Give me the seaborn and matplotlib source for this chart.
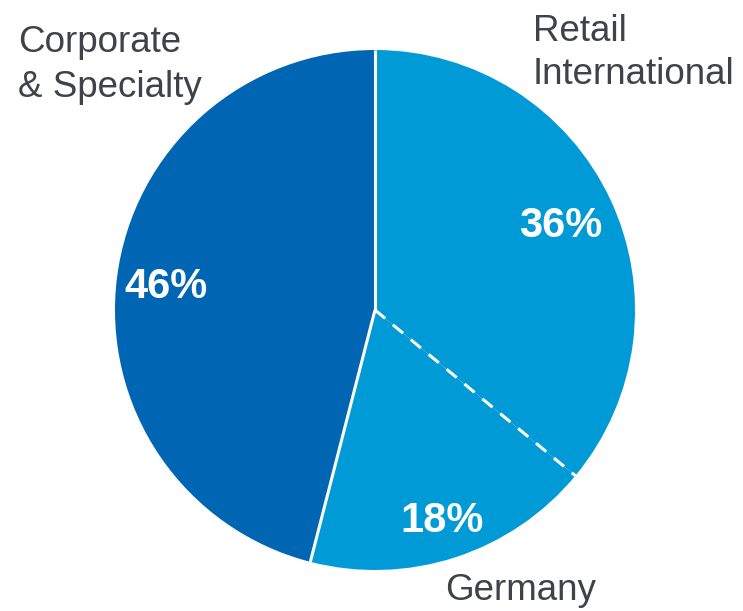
import numpy as np
import matplotlib
matplotlib.use("Agg")
import matplotlib.pyplot as plt
import seaborn as sns

# Share of business by segment (%), drawn clockwise from 12 o'clock
segments = ["Retail\nInternational", "Germany", "Corporate\n& Specialty"]
shares = [36, 18, 46]
slice_colors = ["#009bd6", "#009bd6", "#0066b3"]

sns.set_theme(style="white")
plt.rcParams["font.family"] = ["Liberation Sans", "DejaVu Sans"]

W, H = 743, 611
fig = plt.figure(figsize=(W / 100, H / 100), dpi=100)
ax = fig.add_axes([0, 0, 1, 1])

cx, cy, r = 375, 301, 260
wedges, _, autotexts = ax.pie(
    shares,
    colors=slice_colors,
    startangle=90,
    counterclock=False,
    center=(cx, cy),
    radius=r,
    autopct=lambda p: f"{p:.0f}%",
    pctdistance=0.8,
    wedgeprops=dict(linewidth=0),
    textprops=dict(color="white", fontsize=30, fontweight="bold"),
    frame=True,
)
ax.set_xlim(0, W)
ax.set_ylim(0, H)
ax.set_aspect("equal")
ax.axis("off")

# nudge label radii a little per slice
for t, w, d in zip(autotexts, wedges, [0.79, 0.84, 0.81]):
    mid = np.deg2rad((w.theta1 + w.theta2) / 2)
    t.set_position((cx + d * r * np.cos(mid), cy + d * r * np.sin(mid) - 3))

# slice boundaries: solid between colours, dashed inside the light-blue block
bounds = np.cumsum([0] + shares)[:-1]
styles = ["-", (0, (4.3, 3.3)), "-"]
for b, ls in zip(bounds, styles):
    ang = np.deg2rad(90 - 360 * b / 100)
    ax.plot([cx, cx + r * np.cos(ang)], [cy, cy + r * np.sin(ang)],
            color="white", lw=2.2, ls=ls, solid_capstyle="butt", zorder=3)

txt = "#3f4349"
ax.text(533, H - 53, segments[0], color=txt, fontsize=26.5, ha="left", va="center",
        linespacing=1.3)
ax.text(521, H - 590, segments[1], color=txt, fontsize=26.5, ha="center", va="center")
ax.text(18, H - 65, segments[2], color=txt, fontsize=26.5, ha="left", va="center",
        linespacing=1.38)

fig.savefig("out.png", dpi=100, facecolor="white")
